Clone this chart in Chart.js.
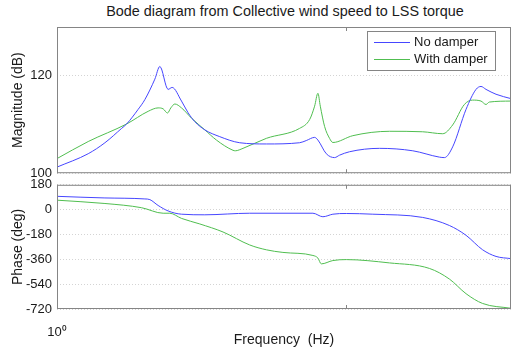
<!DOCTYPE html>
<html>
<head>
<meta charset="utf-8">
<title>Bode diagram</title>
<script src="https://cdn.jsdelivr.net/npm/chart.js@4.4.1/dist/chart.umd.min.js"></script>
<style>
  body { margin: 0; background: #fff; }
  #wrap { position: relative; width: 512px; height: 352px; overflow: hidden; font-family: "Liberation Sans", Arial, sans-serif; }
  #title { position: absolute; left: 57px; width: 456px; top: 3px; text-align: center; font-size: 14.4px; line-height: 17px; color: #1a1a1a; white-space: nowrap; }
  canvas { position: absolute; left: 0; }
  #magCanvas { top: 0; }
  #phaseCanvas { top: 172px; }
</style>
</head>
<body>
<div id="wrap">
  <div id="title">Bode diagram from Collective wind speed to LSS torque</div>
  <canvas id="magCanvas" width="512" height="186"></canvas>
  <canvas id="phaseCanvas" width="512" height="180"></canvas>
</div>
<script>
// ---------- data ----------
const seriesNames = ["No damper", "With damper"];

// magnitude, no damper
const magFreqA = [1.00, 1.283, 1.466, 1.675, 1.743, 1.911, 2.016, 2.183, 2.272, 2.427, 2.506, 2.701, 2.847, 3.001, 3.252, 3.664, 4.298, 5.316, 6.932, 7.31, 7.812, 8.021, 8.576, 9.161, 9.533, 10.32, 13.11, 17.10, 21.15, 22.01, 23.51, 26.16, 28.33, 29.48, 30.68, 33.23, 37.45];
const magA = [101.25, 104.0, 106.25, 109.2, 110.1, 113.1, 115.1, 119.3, 121.9, 117.2, 117.6, 114.8, 112.4, 110.6, 108.9, 107.5, 106.25, 106.0, 106.25, 106.7, 107.35, 106.8, 104.0, 103.2, 103.7, 104.4, 105.1, 104.6, 103.3, 103.2, 105.4, 113.1, 117.2, 117.8, 117.2, 116.2, 115.3];

// magnitude, with damper
const magFreqB = [1.00, 1.283, 1.743, 2.070, 2.241, 2.333, 2.415, 2.480, 2.561, 2.701, 2.925, 3.252, 3.569, 4.074, 4.150, 4.412, 5.316, 6.932, 7.508, 7.812, 8.021, 8.176, 8.460, 8.803, 9.038, 10.60, 14.20, 18.51, 21.71, 23.51, 25.81, 27.57, 29.48, 30.68, 31.50, 37.45];
const magB = [103.0, 106.5, 110.1, 112.7, 113.4, 113.2, 112.35, 113.4, 114.2, 113.4, 111.3, 108.9, 106.8, 104.7, 104.6, 105.1, 107.15, 109.2, 111.0, 113.75, 116.4, 113.75, 109.6, 107.15, 106.3, 107.7, 108.6, 108.5, 108.1, 109.9, 114.1, 115.0, 114.8, 114.1, 114.6, 114.8];

// phase, no damper
const phFreqA = [1.00, 1.466, 2.016, 2.098, 2.241, 2.427, 2.701, 3.252, 4.654, 7.708, 8.347, 9.038, 10.06, 12.43, 18.51, 22.91, 26.16, 29.86, 33.23, 37.45];
const phaseA = [96.5, 84.7, 77.6, 72.7, 30.3, -9.4, -33, -37.4, -26, -26, -51.5, -33, -28, -33, -56.5, -115, -186, -291, -339, -355];

// phase, with damper
const phFreqB = [1.00, 1.466, 1.964, 2.333, 2.460, 2.701, 3.125, 3.762, 4.654, 5.316, 6.067, 7.708, 8.021, 8.240, 9.038, 10.06, 14.20, 19.53, 22.91, 26.16, 29.86, 37.45];
const phaseB = [68.5, 44.5, 14, -26, -26, -63.5, -103.7, -162, -256, -291, -310, -332, -351, -393, -369, -362, -386, -426, -503, -609, -680, -715];

const freqTicks = [1, 10];
const magTicks = [100, 120];
const phaseTicks = [180, 0, -180, -360, -540, -720];

// ---------- helpers ----------
const BLUE = "rgb(70,70,255)";
const GREEN = "rgb(80,190,80)";
const TEXT = "#1a1a1a";
const FRAME = "#858585";
const FAMILY = "'Liberation Sans', Arial, sans-serif";
const FONT = { family: FAMILY, size: 13 };
const LABEL_FONT = { family: FAMILY, size: 14 };

const zip = (xs, ys) => xs.map((x, i) => ({ x, y: ys[i] }));

const lineSet = (label, data, color) => ({
  label, data,
  borderColor: color,
  borderWidth: 1,
  pointRadius: 0,
  fill: false,
  cubicInterpolationMode: "monotone"
});

// frame round the plot plus small inward ticks at the decades
const frame = {
  id: "frame",
  afterDatasetsDraw(chart) {
    const { ctx, chartArea: a, scales: { x } } = chart;
    ctx.save();
    ctx.strokeStyle = FRAME;
    ctx.lineWidth = 1;
    ctx.strokeRect(a.left + 0.5, a.top + 0.5, a.width - 1, a.height - 1);
    freqTicks.forEach(v => {
      const px = Math.round(x.getPixelForValue(v)) + 0.5;
      ctx.beginPath();
      ctx.moveTo(px, a.top); ctx.lineTo(px, a.top + 4);
      ctx.moveTo(px, a.bottom); ctx.lineTo(px, a.bottom - 4);
      ctx.stroke();
    });
    ctx.restore();
  }
};

// boxed legend sitting inside the magnitude plot
const boxLegend = {
  id: "boxLegend",
  afterDraw(chart) {
    const { ctx } = chart;
    const colors = [BLUE, GREEN];
    ctx.save();
    ctx.fillStyle = "#fff";
    ctx.fillRect(367, 31, 128, 39);
    ctx.strokeStyle = FRAME;
    ctx.strokeRect(367.5, 31.5, 128, 39);
    ctx.font = `${FONT.size}px ${FONT.family}`;
    ctx.textBaseline = "middle";
    seriesNames.forEach((name, i) => {
      const y = 42.5 + i * 17;
      ctx.strokeStyle = colors[i];
      ctx.beginPath();
      ctx.moveTo(374, y); ctx.lineTo(410, y);
      ctx.stroke();
      ctx.fillStyle = TEXT;
      ctx.fillText(name, 414, y);
    });
    ctx.restore();
  }
};

const yAxis = (title, ticks, min, max) => ({
  min, max,
  afterBuildTicks: s => { s.ticks = ticks.map(v => ({ value: v })); },
  afterFit: s => { s.width = 57; },
  ticks: { color: TEXT, font: FONT, padding: 5 },
  grid: { color: "#d4d4d4", drawTicks: false },
  border: { display: false, dash: [1, 2] },
  title: { display: true, text: title, color: TEXT, font: LABEL_FONT, padding: { top: 10, bottom: 0 } }
});

const xAxis = (show) => ({
  type: "logarithmic",
  min: 1,
  max: 37.45,
  display: show,
  afterBuildTicks: s => { s.ticks = freqTicks.map(v => ({ value: v })); },
  afterFit: s => { if (show) s.height = 43; },
  ticks: { color: TEXT, font: FONT, padding: 8, maxRotation: 0, autoSkip: false,
           callback: v => (v === 1 ? "10\u2070" : "") },
  grid: { display: false },
  border: { display: false },
  title: { display: show, text: "Frequency  (Hz)", color: TEXT, font: LABEL_FONT, padding: { top: 0, bottom: 3 } }
});

const baseOptions = (padding, yOpts, showX) => ({
  responsive: false,
  animation: false,
  devicePixelRatio: 1,
  layout: { padding },
  plugins: { legend: { display: false }, tooltip: { enabled: false } },
  scales: { x: xAxis(showX), y: yOpts }
});

// ---------- magnitude ----------
new Chart(document.getElementById("magCanvas").getContext("2d"), {
  type: "line",
  data: {
    datasets: [
      lineSet(seriesNames[0], zip(magFreqA, magA), BLUE),
      lineSet(seriesNames[1], zip(magFreqB, magB), GREEN)
    ]
  },
  options: baseOptions({ top: 27, bottom: 0, left: 0, right: 1 }, yAxis("Magnitude (dB)", magTicks, 100, 130), false),
  plugins: [frame, boxLegend]
});

// ---------- phase ----------
new Chart(document.getElementById("phaseCanvas").getContext("2d"), {
  type: "line",
  data: {
    datasets: [
      lineSet(seriesNames[0], zip(phFreqA, phaseA), BLUE),
      lineSet(seriesNames[1], zip(phFreqB, phaseB), GREEN)
    ]
  },
  options: baseOptions({ top: 10, bottom: 0, left: 0, right: 1 }, yAxis("Phase (deg)", phaseTicks, -720, 180), true),
  plugins: [frame]
});
</script>
</body>
</html>
